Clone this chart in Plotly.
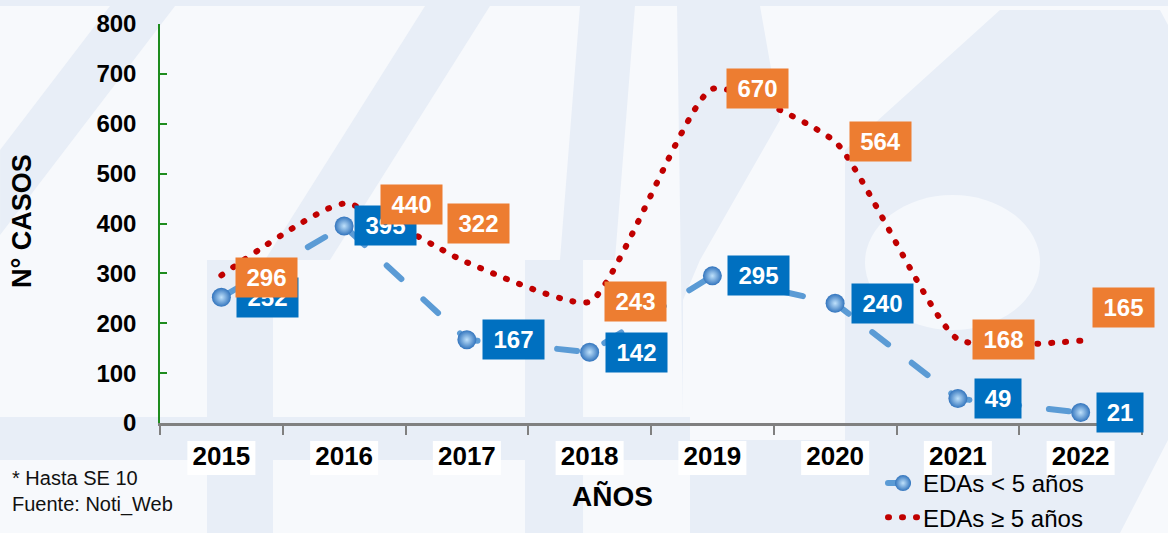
import plotly.graph_objects as go

# ---- data -------------------------------------------------------------
years = ["2015", "2016", "2017", "2018", "2019", "2020", "2021", "2022"]
edas_under5 = [252, 395, 167, 142, 295, 240, 49, 21]
edas_over5 = [296, 440, 322, 243, 670, 564, 168, 165]
series_names = ["EDAs < 5 años", "EDAs ≥ 5 años"]
y_ticks = [0, 100, 200, 300, 400, 500, 600, 700, 800]

# label placement (pixel nudges from each point)
under5_dx = [15, 10, 15, 15, 15, 16, 16, 15]
under5_dy = [0, 0, 0, 0, 0, 0, 0, 0]
over5_dx = [14, 36, -20, 14, 14, 14, 14, 11]
over5_dy = [-2, -1, 39, 0, 0, 0, 0, 33]

# ---- geometry -----------------------------------------------------------
W, H = 1168, 533
ML, MR, MT, MB = 160, 26, 24, 110
PW, PH = W - ML - MR, H - MT - MB


def pxx(x):
    return (x - ML) / PW


def pxy(y):
    return (H - MB - y) / PH


def poly(points):
    d = "M" + " L".join(f"{pxx(x):.4f},{pxy(y):.4f}" for x, y in points) + " Z"
    return d


FONT = "Liberation Sans, Arial, sans-serif"
BLUE_LINE = "#5b9bd5"
BLUE_BOX = "#0070c0"
ORANGE_BOX = "#ed7d31"
RED_DOT = "#c00000"
WASH = "#e8eef7"

fig = go.Figure()

fig.add_trace(go.Scatter(
    x=years, y=edas_under5, name=series_names[0], mode="lines+markers",
    line=dict(color=BLUE_LINE, width=6, dash="20px,30px"),
    marker=dict(size=19, color="#3274bd",
                gradient=dict(type="radial", color="#bfe1fb"),
                line=dict(width=0)),
    cliponaxis=False,
))
fig.add_trace(go.Scatter(
    x=years, y=edas_over5, name=series_names[1], mode="lines",
    line=dict(color=RED_DOT, width=6, dash="1px,13px", shape="spline", smoothing=0.5),
    cliponaxis=False,
))

# ---- value labels -------------------------------------------------------
annotations = []
for i, v in enumerate(edas_under5):
    annotations.append(dict(
        x=i, y=v, xref="x", yref="y", text=f"<b>{v}</b>", showarrow=False,
        xanchor="left", yanchor="middle", xshift=under5_dx[i], yshift=under5_dy[i],
        bgcolor=BLUE_BOX, width=61 if v >= 100 else 46, height=39, borderpad=0,
        font=dict(family=FONT, size=24, color="white"), align="center", valign="middle",
    ))
for i, v in enumerate(edas_over5):
    annotations.append(dict(
        x=i, y=v, xref="x", yref="y", text=f"<b>{v}</b>", showarrow=False,
        xanchor="left", yanchor="middle", xshift=over5_dx[i], yshift=over5_dy[i],
        bgcolor=ORANGE_BOX, width=61 if v >= 100 else 46, height=39, borderpad=0,
        font=dict(family=FONT, size=24, color="white"), align="center", valign="middle",
    ))

# axis titles and notes
annotations.append(dict(
    x=pxx(22), y=pxy(221), xref="paper", yref="paper", text="<b>N° CASOS</b>",
    textangle=-90, showarrow=False, xanchor="center", yanchor="middle",
    font=dict(family=FONT, size=27, color="black"),
))
annotations.append(dict(
    x=pxx(612), y=pxy(496), xref="paper", yref="paper", text="<b>AÑOS</b>",
    showarrow=False, xanchor="center", yanchor="middle",
    font=dict(family=FONT, size=28, color="black"),
))
annotations.append(dict(
    x=pxx(10), y=pxy(478), xref="paper", yref="paper", text="* Hasta SE 10",
    showarrow=False, xanchor="left", yanchor="middle",
    font=dict(family=FONT, size=20, color="#111111"),
))
annotations.append(dict(
    x=pxx(10), y=pxy(505), xref="paper", yref="paper", text="Fuente: Noti_Web",
    showarrow=False, xanchor="left", yanchor="middle",
    font=dict(family=FONT, size=20, color="#111111"),
))

# ---- background wash and tick-label plates -----------------------------
shapes = []
wash_polys = [
    [(0, 0), (W, 0), (W, 6), (0, 6)],
    [(845, 150), (1000, 10), (1160, 10), (1168, 25), (1168, 440), (1120, 533), (690, 533), (690, 440), (845, 440)],
    [(0, 150), (0, 235), (175, 6), (110, 6)],
    [(265, 260), (330, 260), (490, 6), (425, 6)],
    [(207, 260), (273, 260), (273, 533), (207, 533)],
    [(0, 417), (690, 417), (690, 460), (0, 460)],
    [(525, 260), (583, 260), (583, 533), (525, 533)],
    [(560, 260), (615, 260), (635, 6), (580, 6)],
    [(677, 6), (760, 6), (780, 120), (700, 260), (683, 300), (683, 417)],
]
for pts in wash_polys:
    shapes.append(dict(type="path", path=poly(pts), xref="paper", yref="paper",
                       fillcolor=WASH, line=dict(width=0), layer="below"))
shapes.append(dict(type="circle", xref="paper", yref="paper",
                   x0=pxx(865), x1=pxx(1040), y0=pxy(330), y1=pxy(195),
                   fillcolor="#f5f8fc", line=dict(width=0), layer="below"))
for i in range(len(years)):
    shapes.append(dict(
        type="rect", xref="paper", yref="paper",
        xsizemode="pixel", ysizemode="pixel",
        xanchor=(i + 0.5) / len(years), yanchor=0,
        x0=-34, x1=34, y0=-18, y1=-52,
        fillcolor="white", line=dict(width=0), layer="below",
    ))

fig.update_layout(
    width=W, height=H,
    margin=dict(l=ML, r=MR, t=MT, b=MB, autoexpand=False),
    paper_bgcolor="#f7f9fc", plot_bgcolor="rgba(0,0,0,0)",
    font=dict(family=FONT, color="black"),
    showlegend=True,
    legend=dict(
        x=pxx(883), y=pxy(461), xanchor="left", yanchor="top",
        bgcolor="rgba(0,0,0,0)", font=dict(family=FONT, size=24, color="black"),
        itemwidth=30, tracegroupgap=0,
    ),
    annotations=annotations,
    shapes=shapes,
    xaxis=dict(
        type="category", range=[-0.5, len(years) - 0.5],
        showline=True, linecolor="#808080", linewidth=2.5,
        ticks="outside", ticklen=9, tickwidth=2, tickcolor="#808080",
        tickson="boundaries", showgrid=False, zeroline=False,
        tickfont=dict(family=FONT, size=26, color="black", weight="bold"),
        ticklabelstandoff=8,
    ),
    yaxis=dict(
        range=[0, 800], tickvals=y_ticks,
        showline=True, linecolor="#1e8c1e", linewidth=1.5,
        ticks="inside", ticklen=7, tickwidth=1.5, tickcolor="#1e8c1e",
        showgrid=False, zeroline=False,
        tickfont=dict(family=FONT, size=24, color="black", weight="bold"),
        ticklabelstandoff=17,
    ),
)

round_caps = """
var gd = document.getElementById('{plot_id}');
function roundCaps() {
  gd.querySelectorAll('.scatterlayer .js-line, .legend .legendlines path').forEach(function (p) {
    p.style.strokeLinecap = 'round';
  });
}
roundCaps();
gd.on('plotly_afterplot', roundCaps);
"""

fig.write_html("out.html", post_script=round_caps)
